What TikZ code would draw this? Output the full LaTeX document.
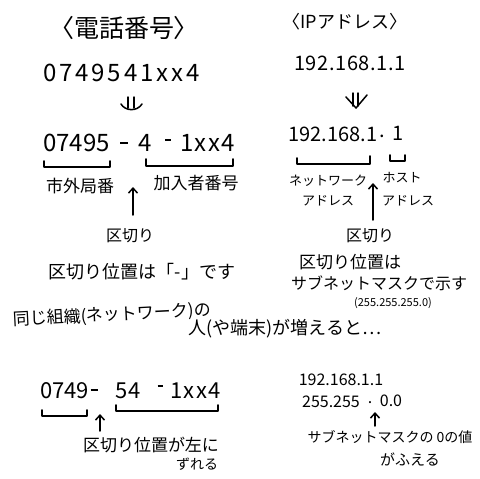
\documentclass[tikz,border=0pt]{standalone}
\usepackage{fontspec}
\setmainfont{Noto Sans CJK JP}
\usetikzlibrary{arrows.meta}
\newcommand\myfs[1]{\fontsize{#1}{#1}\selectfont}
\begin{document}
\begin{tikzpicture}[x=1pt,y=-1pt,
  txt/.style={inner sep=0pt, anchor=center, text=black},
  dashbar/.style={inner sep=0pt, anchor=center},
  brk/.style={line width=1.6pt, line cap=round, line join=round},
  upar/.style={line width=1.5pt, line cap=round, -{Straight Barb[length=5pt,width=9pt,line width=1.5pt]}},
  dbl/.style={line width=1.5pt, line cap=round, line join=round}]
\useasboundingbox[fill=white] (0,0) rectangle (480,479);

% ---------- left column: telephone number ----------
\node[txt] (tel) at (124,28) {\myfs{25}〈電話番号〉};
\node[txt, anchor=west] (tnum) at (43,73) {\myfs{24}\addfontfeature{LetterSpace=12}0749541xx4};
% double arrow
\coordinate (la1) at (128,97); \coordinate (la2) at (128,108);
\coordinate (lb1) at (134,97); \coordinate (lb2) at (134,108);
\coordinate (lc1) at (121,104); \coordinate (lc3) at (142,104);
\draw[dbl] (la1) -- (la2); \draw[dbl] (lb1) -- (lb2);
\draw[dbl] (lc1) .. controls (125,111) and (137,112) .. (lc3);

\node[txt, anchor=west] (p1) at (43,143) {\myfs{24}07495};
\node[dashbar] (p2) at (124,143) {\rule{8pt}{1.8pt}};
\node[txt] (p3) at (145,143) {\myfs{24}4};
\node[dashbar] (p4) at (168,140) {\rule{6pt}{1.8pt}};
\node[txt, anchor=west] (p5) at (180,143) {\myfs{24}\addfontfeature{LetterSpace=6}1xx4};
% brackets
\coordinate (b1a) at (44,161); \coordinate (b1b) at (44,167); \coordinate (b1c) at (110,167); \coordinate (b1d) at (110,161);
\draw[brk] (b1a) -- (b1b) -- (b1c) -- (b1d);
\coordinate (b2a) at (146,159); \coordinate (b2b) at (146,166); \coordinate (b2c) at (233,166); \coordinate (b2d) at (233,159);
\draw[brk] (b2a) -- (b2b) -- (b2c) -- (b2d);
\node[txt] (shigai) at (80,186) {\myfs{17}市外局番};
\node[txt] (kanyu) at (196,183) {\myfs{17}加入者番号};
\coordinate (ar1s) at (133,215); \coordinate (ar1t) at (133,187);
\draw[upar] (ar1s) -- (ar1t);
\node[txt] (kg1) at (130,236) {\myfs{16}区切り};
\node[txt] (kg1b) at (142,272) {\myfs{18}区切り位置は「-」です};

% ---------- right column: IP address ----------
\node[txt] (ip) at (345,22) {\myfs{18}〈IPアドレス〉};
\node[txt] (inum) at (350,63) {\myfs{20}\addfontfeature{LetterSpace=3}192.168.1.1};
\coordinate (ra1) at (353,93); \coordinate (ra2) at (353,106);
\coordinate (rb1) at (358,93); \coordinate (rb2) at (358,106);
\coordinate (rc1) at (346,97); \coordinate (rc2) at (356,108); \coordinate (rc3) at (367,95);
\draw[dbl] (ra1) -- (ra2); \draw[dbl] (rb1) -- (rb2);
\draw[dbl] (rc1) -- (rc2) -- (rc3);

\node[txt] (q1) at (333,134) {\myfs{20}192.168.1};
\node[txt] (q2) at (382,136) {\myfs{20}.};
\node[txt] (q3) at (398,133) {\myfs{20}1};
\coordinate (c1a) at (297,158); \coordinate (c1b) at (297,164); \coordinate (c1c) at (370,164); \coordinate (c1d) at (370,156);
\draw[brk] (c1a) -- (c1b) -- (c1c) -- (c1d);
\coordinate (c2a) at (390,155); \coordinate (c2b) at (390,161); \coordinate (c2c) at (405,161); \coordinate (c2d) at (405,155);
\draw[brk] (c2a) -- (c2b) -- (c2c) -- (c2d);
\node[txt] (nw1) at (328,181) {\myfs{13}ネットワーク};
\node[txt] (nw2) at (328,201) {\myfs{13}アドレス};
\node[txt] (hs1) at (402,178) {\myfs{13}ホスト};
\node[txt] (hs2) at (408,201) {\myfs{13}アドレス};
\coordinate (ar2s) at (373,220); \coordinate (ar2t) at (373,183);
\draw[upar] (ar2s) -- (ar2t);
\node[txt] (kg2) at (370,236) {\myfs{16}区切り};
\node[txt] (kg2b) at (350,262) {\myfs{17}区切り位置は};
\node[txt] (kg2c) at (379,283) {\myfs{16}サブネットマスクで示す};
\node[txt] (mask) at (393,303) {\myfs{11}(255.255.255.0)};

% ---------- middle ----------
\node[txt, rotate=3] (same) at (112,315) {\myfs{17}同じ組織(ネットワーク)の};
\node[txt] (incr) at (285,329) {\myfs{18}人(や端末)が増えると…};

% ---------- bottom left ----------
\node[txt, anchor=west] (r1) at (40,391) {\myfs{22}0749};
\node[dashbar] (r2) at (94,390) {\rule{7pt}{1.8pt}};
\node[txt] (r3) at (128,391) {\myfs{22}\addfontfeature{LetterSpace=5}54};
\node[dashbar] (r4) at (160,386) {\rule{5pt}{1.8pt}};
\node[txt, anchor=west] (r5) at (170,391) {\myfs{22}\addfontfeature{LetterSpace=6}1xx4};
\coordinate (d1a) at (42,410); \coordinate (d1b) at (42,416); \coordinate (d1c) at (87,416); \coordinate (d1d) at (87,410);
\draw[brk] (d1a) -- (d1b) -- (d1c) -- (d1d);
\coordinate (d2a) at (116,405); \coordinate (d2b) at (116,411); \coordinate (d2c) at (218,411); \coordinate (d2d) at (218,405);
\draw[brk] (d2a) -- (d2b) -- (d2c) -- (d2d);
\coordinate (ar3s) at (100,431); \coordinate (ar3t) at (100,414);
\draw[upar] (ar3s) -- (ar3t);
\node[txt] (shift1) at (151,445) {\myfs{17}区切り位置が左に};
\node[txt] (shift2) at (197,464) {\myfs{14}ずれる};

% ---------- bottom right ----------
\node[txt] (s1) at (341,380) {\myfs{16}192.168.1.1};
\node[txt] (s2) at (331,402) {\myfs{16}255.255};
\node[txt] (s3) at (370,403) {\myfs{16}.};
\node[txt] (s4) at (391,401) {\myfs{16}0.0};
\coordinate (ar4s) at (375,426); \coordinate (ar4t) at (375,412);
\draw[upar] (ar4s) -- (ar4t);
\node[txt] (sub1) at (390,437) {\myfs{14}サブネットマスクの 0の値};
\node[txt] (sub2) at (410,459) {\myfs{15}がふえる};
\end{tikzpicture}
\end{document}
